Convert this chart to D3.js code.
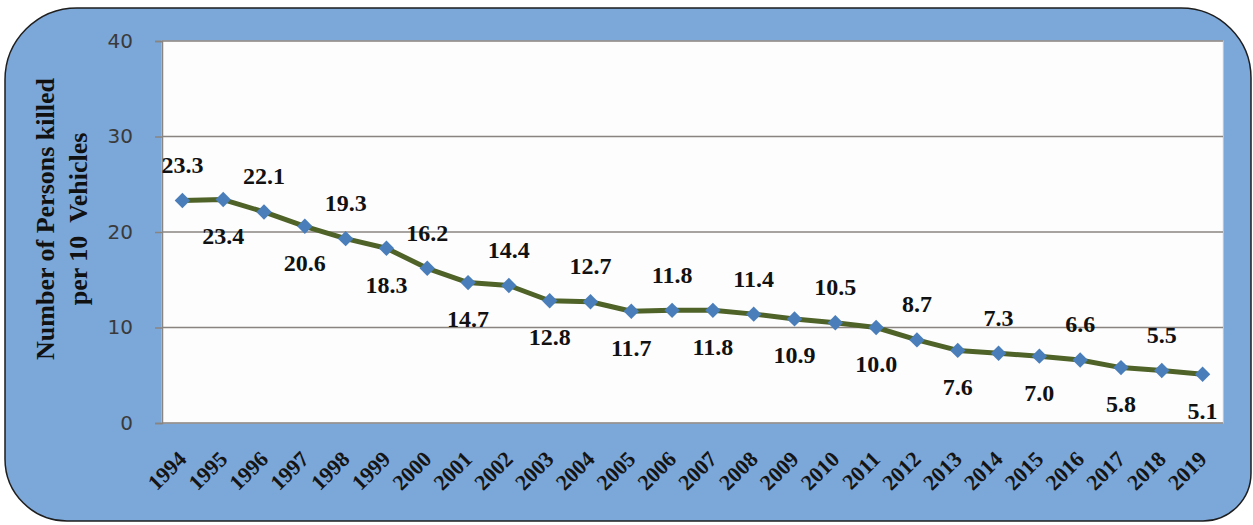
<!DOCTYPE html>
<html>
<head>
    <meta charset="utf-8">
    <title>Persons killed per 10 vehicles</title>
    <script src="https://cdn.jsdelivr.net/npm/d3@7/dist/d3.min.js"></script>
    <style>
        body { margin: 0; background: #ffffff; }
        .ytick text { font-family: "DejaVu Sans", sans-serif; font-size: 20px; fill: #3a3a3a; }
        .xtick text { font-family: "Liberation Serif", serif; font-weight: bold; font-size: 22px; fill: #151515; }
        .vlabel { font-family: "Liberation Serif", serif; font-weight: bold; font-size: 24px; fill: #111; }
        .ytitle { font-family: "Liberation Serif", serif; font-weight: bold; font-size: 26px; fill: #111; }
    </style>
</head>
<body>
    <svg width="1253" height="525" id="mainsvg"></svg>
    <script>
        // data
        const years = ['1994', '1995', '1996', '1997', '1998', '1999', '2000', '2001', '2002', '2003', '2004', '2005', '2006',
            '2007', '2008', '2009', '2010', '2011', '2012', '2013', '2014', '2015', '2016', '2017', '2018', '2019'];
        const killed = [23.3, 23.4, 22.1, 20.6, 19.3, 18.3, 16.2, 14.7, 14.4, 12.8, 12.7, 11.7, 11.8,
            11.8, 11.4, 10.9, 10.5, 10.0, 8.7, 7.6, 7.3, 7.0, 6.6, 5.8, 5.5, 5.1];
        const yTicks = [0, 10, 20, 30, 40];
        const titleLines = ['Number of Persons killed', 'per 10\u00a0\u00a0Vehicles'];

        const svg = d3.select('svg');

        // rounded blue frame, each corner its own radius
        const bx0 = 5, by0 = 8, bx1 = 1251, by1 = 521;
        const rTL = 72, rTR = 70, rBR = 48, rBL = 62;
        const frame = d3.path();
        frame.moveTo(bx0 + rTL, by0);
        frame.lineTo(bx1 - rTR, by0);
        frame.arcTo(bx1, by0, bx1, by0 + rTR, rTR);
        frame.lineTo(bx1, by1 - rBR);
        frame.arcTo(bx1, by1, bx1 - rBR, by1, rBR);
        frame.lineTo(bx0 + rBL, by1);
        frame.arcTo(bx0, by1, bx0, by1 - rBL, rBL);
        frame.lineTo(bx0, by0 + rTL);
        frame.arcTo(bx0, by0, bx0 + rTL, by0, rTL);
        frame.closePath();
        svg.append('path')
            .attr('d', frame.toString())
            .attr('fill', '#7ba7d9')
            .attr('stroke', '#1e1e1e')
            .attr('stroke-width', 1.5);

        const plotL = 162, plotR = 1223, plotT = 41, plotB = 423;

        const x = d3.scaleBand().domain(years).range([plotL, plotR]);
        const cx = d => x(d) + x.bandwidth() / 2;
        const y = d3.scaleLinear().domain([0, 40]).range([plotB, plotT]);

        // plot area
        svg.append('rect')
            .attr('x', plotL).attr('y', plotT)
            .attr('width', plotR - plotL).attr('height', plotB - plotT)
            .attr('fill', '#fdfdfd')
            .attr('stroke', '#e4e8ee');

        // gridlines + y axis
        const yAxis = svg.append('g')
            .attr('class', 'ytick')
            .attr('transform', `translate(${plotL},0)`)
            .call(d3.axisLeft(y).tickValues(yTicks).tickSize(7).tickPadding(22).tickFormat(d3.format('d')));
        yAxis.select('.domain').attr('stroke', '#8a8480').attr('stroke-width', 1.5);
        yAxis.selectAll('.tick line').attr('stroke', '#8a8480').attr('stroke-width', 1.5);

        svg.append('g')
            .selectAll('line')
            .data(yTicks)
            .join('line')
            .attr('x1', plotL).attr('x2', plotR)
            .attr('y1', d => y(d)).attr('y2', d => y(d))
            .attr('stroke', '#8a8480')
            .attr('stroke-width', 1.5);

        // x labels, turned 45 degrees
        svg.append('g')
            .attr('class', 'xtick')
            .selectAll('text')
            .data(years)
            .join('text')
            .attr('transform', d => `translate(${cx(d)},${plotB + 32}) rotate(-45)`)
            .attr('text-anchor', 'end')
            .attr('dy', '0.35em')
            .text(d => d);

        // line
        const line = d3.line().x((d, i) => cx(years[i])).y(d => y(d));
        svg.append('path')
            .datum(killed)
            .attr('d', line)
            .attr('fill', 'none')
            .attr('stroke', '#4f6228')
            .attr('stroke-width', 5)
            .attr('stroke-linejoin', 'round');

        // diamond markers
        svg.append('g')
            .selectAll('path')
            .data(killed)
            .join('path')
            .attr('d', d3.symbol().type(d3.symbolSquare).size(118))
            .attr('transform', (d, i) => `translate(${cx(years[i])},${y(d)}) rotate(45)`)
            .attr('fill', '#4a7ebb');

        // value labels, alternating above and below
        svg.append('g')
            .selectAll('text')
            .data(killed)
            .join('text')
            .attr('class', 'vlabel')
            .attr('x', (d, i) => cx(years[i]))
            .attr('y', (d, i) => y(d) + (i % 2 == 0 ? -36 : 36))
            .attr('dy', '0.35em')
            .attr('text-anchor', 'middle')
            .text(d => d.toFixed(1));

        // y title, two lines
        svg.append('g')
            .attr('transform', 'translate(61,219) rotate(-90)')
            .selectAll('text')
            .data(titleLines)
            .join('text')
            .attr('class', 'ytitle')
            .attr('x', 0)
            .attr('y', (d, i) => -16 + i * 33)
            .attr('dy', '0.35em')
            .attr('text-anchor', 'middle')
            .text(d => d);
    </script>
</body>
</html>
